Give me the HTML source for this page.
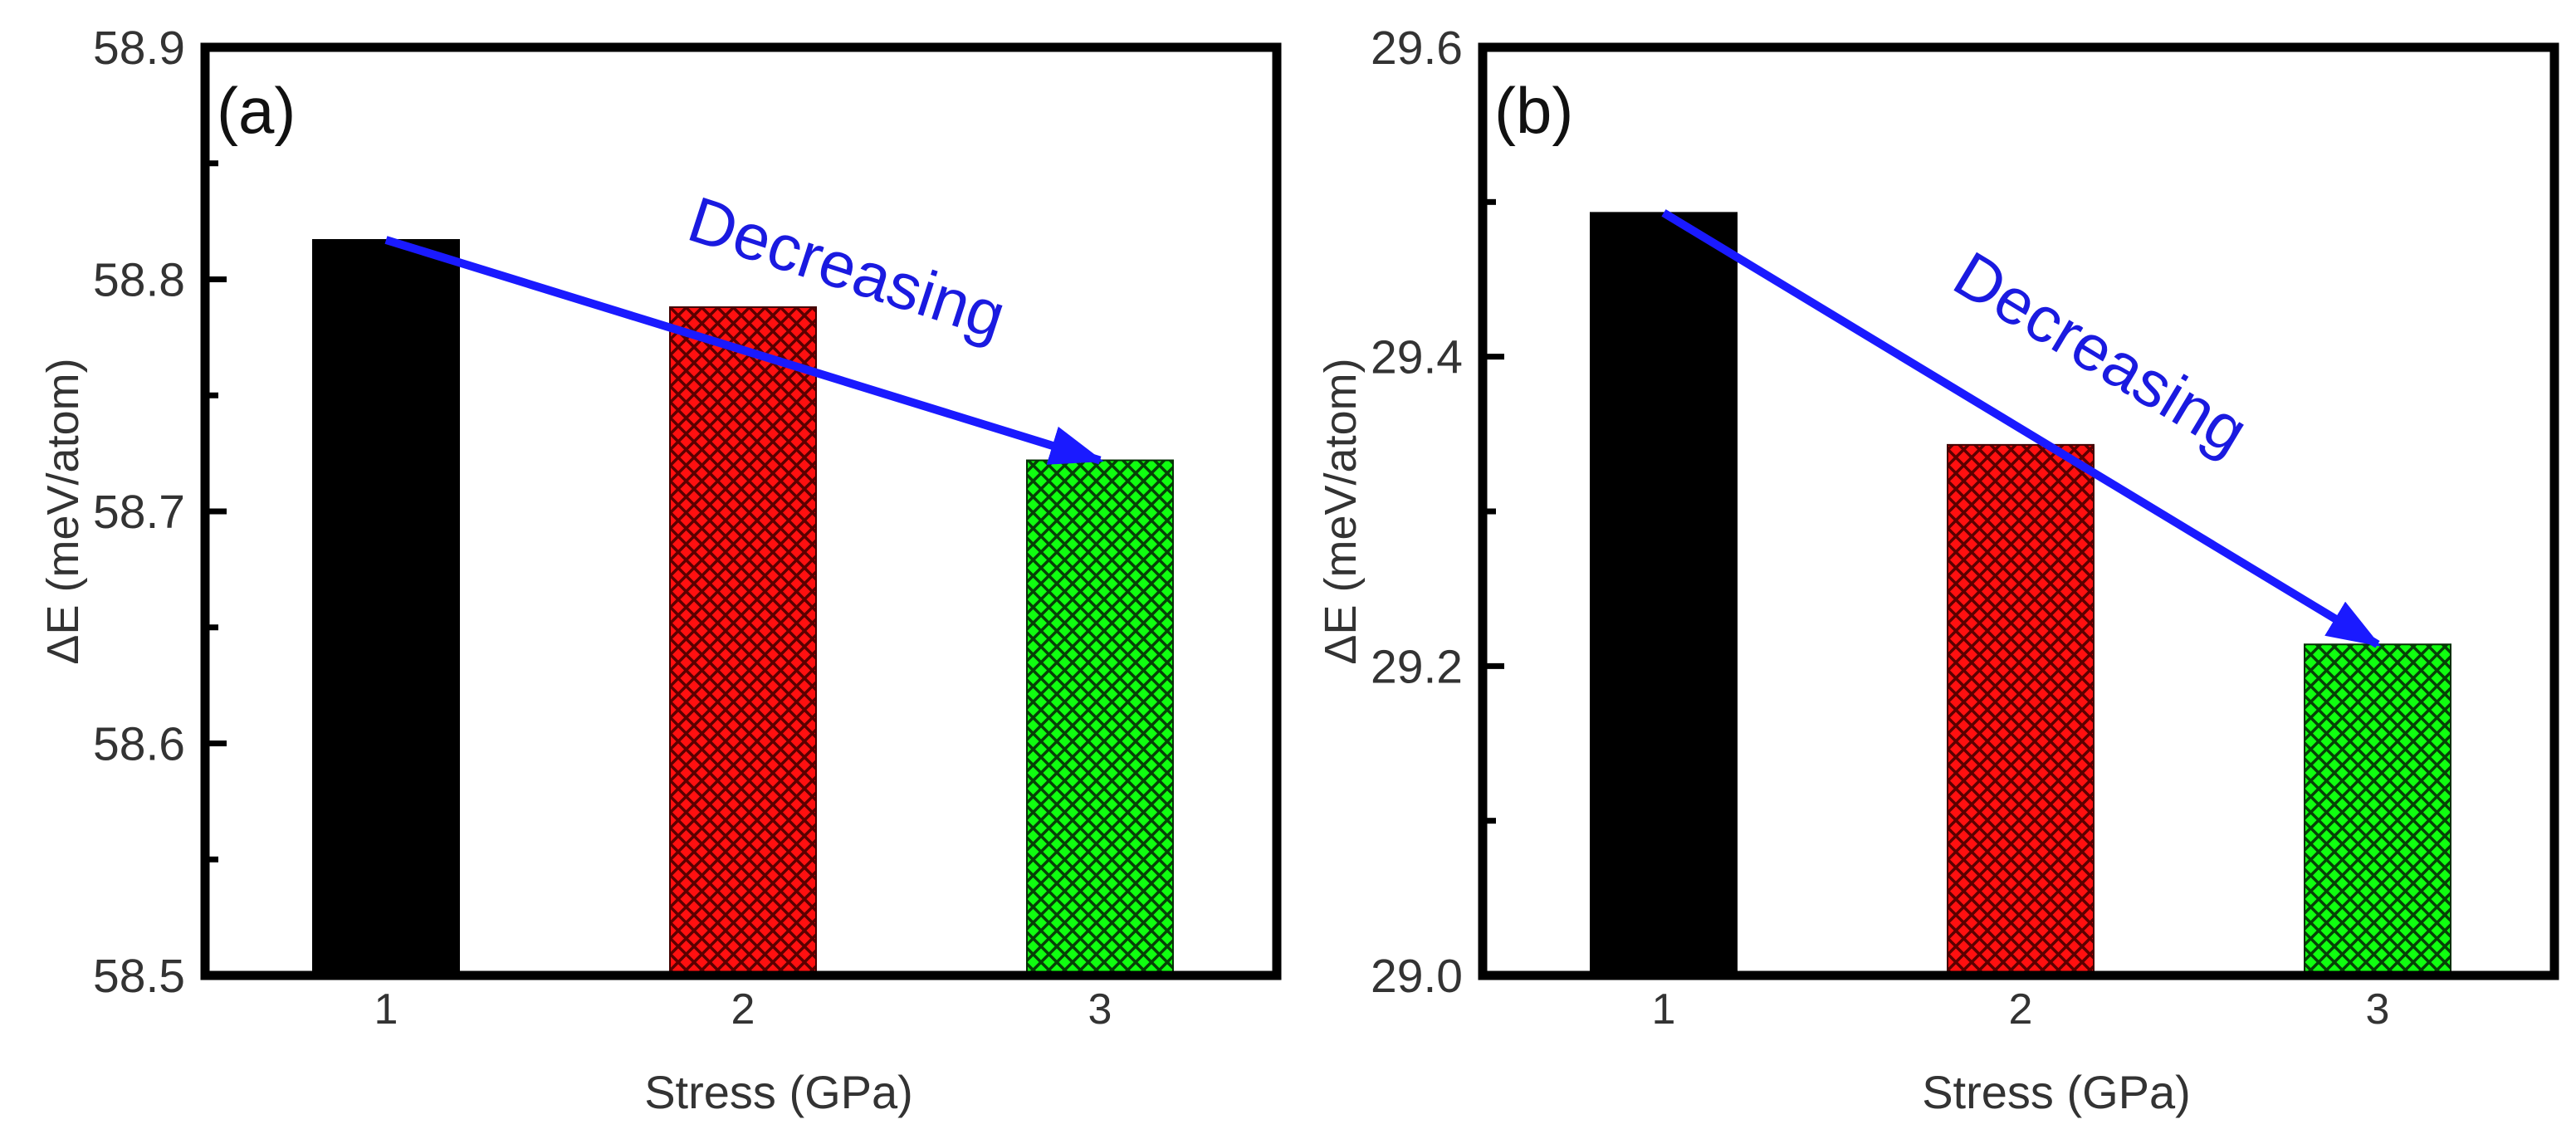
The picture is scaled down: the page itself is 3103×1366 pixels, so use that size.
<!DOCTYPE html>
<html><head><meta charset="utf-8"><style>
html,body{margin:0;padding:0;background:#fff;}
svg{display:block;font-family:"Liberation Sans",Arial,sans-serif;}
</style></head><body>
<svg id="fig" width="3103" height="1366" viewBox="0 0 3103 1366" xmlns="http://www.w3.org/2000/svg">
<defs>
<pattern id="hatchRed" patternUnits="userSpaceOnUse" width="19" height="19">
<rect width="19" height="19" fill="#ff1010"/>
<path d="M0,0 L19,19 M19,0 L0,19" stroke="#5a0000" stroke-width="3.5"/>
</pattern>
<pattern id="hatchGreen" patternUnits="userSpaceOnUse" width="19" height="19">
<rect width="19" height="19" fill="#10ff10"/>
<path d="M0,0 L19,19 M19,0 L0,19" stroke="#064006" stroke-width="3.5"/>
</pattern>
<marker id="arrowHead" markerWidth="6.5" markerHeight="4.8" refX="6" refY="2.4" orient="auto" markerUnits="strokeWidth">
<path d="M0,0 L6.5,2.4 L0,4.8 Z" fill="#1a1aff"/>
</marker>
</defs>
</svg>
<script>
const categories = [1, 2, 3];
const valuesA = [58.817, 58.788, 58.722];
const valuesB = [29.493, 29.343, 29.214];
const ticksA = [58.5, 58.6, 58.7, 58.8, 58.9];
const tickLabelsA = ["58.5", "58.6", "58.7", "58.8", "58.9"];
const ticksB = [29.0, 29.2, 29.4, 29.6];
const tickLabelsB = ["29.0", "29.2", "29.4", "29.6"];
const fills = ["#000000", "url(#hatchRed)", "url(#hatchGreen)"];

const NS = "http://www.w3.org/2000/svg";
const svg = document.getElementById('fig');
function mk(tag, attrs, parent) {
  const e = document.createElementNS(NS, tag);
  for (const k in attrs) e.setAttribute(k, attrs[k]);
  (parent || svg).appendChild(e);
  return e;
}

function panel(off, vals, ymin, ymax, ticks, tickLabels, minorStep, letter, textAngle, textPos, key) {
  const L = 247 + off, R = 1538 + off, T = 57, B = 1175;
  const g = mk('g', {});
  
  
  const y = v => B - (v - ymin) / (ymax - ymin) * (B - T);
  const x = c => 465 + off + (c - 1) * 430;
  const bw = 176;
  categories.forEach((c, i) => {
    const r = mk('rect', {x: x(c) - bw / 2, y: y(vals[i]), width: bw, height: B - y(vals[i]), fill: fills[i], stroke: i === 0 ? '#000' : (i === 1 ? '#400000' : '#053005'), 'stroke-width': 2}, g);
    
    
  });
  for (let v = ymin; v <= ymax + 1e-9; v += minorStep) {
    const isMajor = ticks.some(t => Math.abs(t - v) < 1e-6);
    const tk = mk('line', {x1: L, x2: L + (isMajor ? 26 : 16), y1: y(v), y2: y(v), stroke: '#000', 'stroke-width': 7}, g);
    
    
  }
  ticks.forEach((t, i) => {
    const tx = mk('text', {x: L - 24, y: y(t) + 20, 'text-anchor': 'end', 'font-size': 57, fill: '#333'}, g);
    tx.textContent = tickLabels[i];
    
    
  });
  categories.forEach(c => {
    const tx = mk('text', {x: x(c), y: 1233, 'text-anchor': 'middle', 'font-size': 52, fill: '#333'}, g);
    tx.textContent = String(c);
    
    
  });
  const fr = mk('rect', {x: L, y: T, width: R - L, height: B - T, fill: 'none', stroke: '#000', 'stroke-width': 11}, g);
  
  
  const ar = mk('line', {x1: x(1), y1: y(vals[0]), x2: x(3), y2: y(vals[2]), stroke: '#1a1aff', 'stroke-width': 10, 'marker-end': 'url(#arrowHead)'}, g);
  
  
  const dt = mk('text', {x: textPos[0] + off, y: textPos[1], 'text-anchor': 'middle', 'font-size': 78, fill: '#1a1ae0', transform: 'rotate(' + textAngle + ' ' + (textPos[0] + off) + ' ' + textPos[1] + ')'}, g);
  dt.textContent = 'Decreasing';
  
  
  const pl = mk('text', {x: L + 14, y: 160, 'font-size': 78, fill: '#111'}, g);
  pl.textContent = letter;
  
  
  const yt = mk('text', {x: 0, y: 0, 'text-anchor': 'middle', 'font-size': 54, fill: '#333', transform: 'translate(' + (94 + off) + ',616) rotate(-90)'}, g);
  yt.textContent = 'ΔE (meV/atom)';
  
  
  const xt = mk('text', {x: 938 + off, y: 1335, 'text-anchor': 'middle', 'font-size': 56, fill: '#333'}, g);
  xt.textContent = 'Stress (GPa)';
  
  
}
panel(0, valuesA, 58.5, 58.9, ticksA, tickLabelsA, 0.05, '(a)', 18, [1012, 348], 'a');
panel(1539, valuesB, 29.0, 29.6, ticksB, tickLabelsB, 0.1, '(b)', 31, [978, 448], 'b');
</script>
</body></html>
